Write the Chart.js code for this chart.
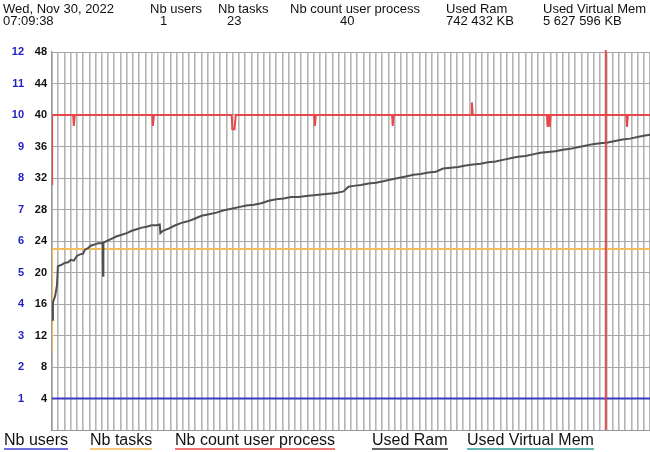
<!DOCTYPE html>
<html>
<head>
<meta charset="utf-8">
<script src="https://cdn.jsdelivr.net/npm/chart.js@4/dist/chart.umd.min.js"></script>
<style>
  html, body { margin: 0; padding: 0; background: #fff; }
  body { width: 650px; height: 452px; position: relative; overflow: hidden; font-family: "Liberation Sans", Arial, sans-serif; }
  #wrap { position: absolute; left: 0; top: 0; width: 650px; height: 452px; }
  .hd { position: absolute; top: 3px; font-size: 13px; line-height: 12px; color: #111; white-space: nowrap; }
  .hd div { height: 12px; }
  #legend { position: absolute; left: 0; top: 432px; width: 650px; height: 20px; }
  #legend span { position: absolute; top: 0; font-size: 16px; line-height: 16px; color: #111; padding-bottom: 0; border-bottom: 2px solid; white-space: nowrap; }
</style>
</head>
<body>
<div id="wrap"><canvas id="cv" width="650" height="452"></canvas></div>
<div id="header"></div>
<div id="legend"></div>
<script>
// ── Data ────────────────────────────────────────────
const headerDate = ['Wed, Nov 30, 2022', '07:09:38'];
const headerNames  = ['Nb users', 'Nb tasks', 'Nb count user process', 'Used Ram', 'Used Virtual Mem'];
const headerValues = ['1', '23', '40', '742 432 KB', '5 627 596 KB'];

const yTicksLeft  = [1, 2, 3, 4, 5, 6, 7, 8, 9, 10, 11, 12];   // users axis
const yTicksRight = [4, 8, 12, 16, 20, 24, 28, 32, 36, 40, 44, 48];

const usersT = [0, 96];
const usersV = [1, 1];

const tasksT = [0, 0.02, 96];
const tasksV = [10.2, 23, 23];

const procT = [0, 0.02, 3.4, 3.5, 3.65, 16.1, 16.2, 16.35, 28.85, 28.95, 29.3, 29.5,
  42.1, 42.2, 42.35, 54.6, 54.7, 54.85, 67.3, 67.4, 67.55,
  79.45, 79.55, 79.7, 79.8, 79.9, 80.05, 92.2, 92.3, 92.45, 96];
const procV = [31.2, 40, 40, 38.6, 40, 40, 38.6, 40, 40, 38.2, 38.2, 40,
  40, 38.6, 40, 40, 38.6, 40, 40, 41.6, 40,
  40, 38.5, 40, 40, 38.5, 40, 40, 38.5, 40, 40];

const ramT = [0, 0.15, 0.5, 0.8, 0.95, 1.6, 2.0, 2.6, 3.0, 3.5, 4.0, 4.5, 5.0, 5.3, 5.8, 6.2, 6.6, 7.0, 7.4, 7.75,
  8.15, 8.2, 8.25, 8.8, 9.6, 10.4, 11.2, 12.0, 12.8, 13.6, 14.4, 15.2, 16.0, 16.8, 17.3, 17.4, 17.8, 18.8, 19.8,
  20.8, 21.8, 22.8, 24.0, 25.2, 26.4, 27.6, 28.8, 30.0, 31.2, 32.4, 33.6, 34.8, 36.0, 37.2, 38.4, 39.6, 40.8,
  42.0, 43.2, 44.4, 45.6, 46.8, 47.6, 48.4, 49.6, 50.8, 52.0, 53.2, 54.4, 55.6, 56.8, 58.0, 59.2, 60.4, 61.6,
  62.8, 64.0, 65.2, 66.4, 67.6, 68.8, 70.0, 71.2, 72.4, 73.6, 74.8, 76.0, 77.2, 78.4, 79.6, 80.8, 82.0, 83.2,
  84.4, 85.6, 86.8, 88.0, 89.2, 90.4, 91.6, 92.8, 94.0, 95.2, 96.0];
const ramV = [14.0, 16.2, 17.0, 18.4, 20.8, 21.0, 21.2, 21.3, 21.6, 21.5, 22.1, 22.3, 22.4, 22.9, 23.1, 23.4, 23.5, 23.6, 23.7, 23.7,
  23.8, 19.6, 23.8, 24.0, 24.3, 24.6, 24.8, 25.0, 25.3, 25.5, 25.7, 25.8, 26.0, 26.0, 26.1, 25.0, 25.3, 25.6, 26.0,
  26.3, 26.5, 26.8, 27.2, 27.4, 27.6, 27.9, 28.1, 28.3, 28.5, 28.6, 28.8, 29.1, 29.3, 29.4, 29.6, 29.6, 29.7,
  29.8, 29.9, 30.0, 30.1, 30.3, 30.9, 31.0, 31.1, 31.3, 31.4, 31.6, 31.8, 32.0, 32.2, 32.4, 32.5, 32.7, 32.8,
  33.2, 33.3, 33.4, 33.6, 33.7, 33.8, 34.0, 34.1, 34.3, 34.5, 34.7, 34.8, 35.0, 35.2, 35.3, 35.4, 35.6, 35.7,
  35.9, 36.1, 36.3, 36.4, 36.5, 36.7, 36.9, 37.0, 37.2, 37.4, 37.5];

const vmemT = [];   // off the scale, not visible
const vmemV = [];

const markerX = 88.9;   // current-time marker

// ── Helpers ─────────────────────────────────────────
const pts = (t, v) => t.map((x, i) => ({ x, y: v[i] }));

const COLORS = {
  users: '#3b3bc4', tasks: '#f3be5c', proc: '#e8484c', ram: '#505050', vmem: '#4aa8a8',
  usersLeg: '#6f6fdc', tasksLeg: '#f6cb80', procLeg: '#f07676', ramLeg: '#666666', vmemLeg: '#66b6b6',
};

// header
(function buildHeader() {
  const h = document.getElementById('header');
  const cols = [3, 150, 218, 290, 446, 543];
  const valOffset = [0, 10, 9, 50, 0, 0];
  const mk = (left, lines) => {
    const d = document.createElement('div');
    d.className = 'hd';
    d.style.left = left + 'px';
    lines.forEach(t => { const l = document.createElement('div'); l.textContent = t; d.appendChild(l); });
    h.appendChild(d);
  };
  mk(cols[0], headerDate);
  headerNames.forEach((n, i) => {
    mk(cols[i + 1], [n]);
    const d = document.createElement('div');
    d.className = 'hd';
    d.style.top = '15px';
    d.style.left = (cols[i + 1] + valOffset[i + 1]) + 'px';
    d.textContent = headerValues[i];
    h.appendChild(d);
  });
})();

const markerPlugin = {
  id: 'marker',
  afterDatasetsDraw(chart) {
    const { ctx, chartArea: a, scales } = chart;
    const x = scales.x.getPixelForValue(markerX);
    ctx.save();
    ctx.strokeStyle = 'rgba(228,60,60,0.9)';
    ctx.lineWidth = 2;
    ctx.beginPath(); ctx.moveTo(x, a.top - 2); ctx.lineTo(x, a.bottom); ctx.stroke();
    ctx.restore();
  },
};

const lineDs = (label, data, color, axis, width) => ({
  label, data, yAxisID: axis, borderColor: color, backgroundColor: color,
  borderWidth: width, pointRadius: 0, tension: 0, fill: false,
});

const chart = new Chart(document.getElementById('cv'), {
  type: 'line',
  data: {
    datasets: [
      lineDs('Used Ram', pts(ramT, ramV), COLORS.ram, 'y', 2),
      lineDs('Nb users', pts(usersT, usersV), COLORS.users, 'yU', 2),
      lineDs('Nb tasks', pts(tasksT, tasksV), COLORS.tasks, 'y', 2),
      lineDs('Nb count user process', pts(procT, procV), COLORS.proc, 'y', 2),
      lineDs('Used Virtual Mem', pts(vmemT, vmemV), COLORS.vmem, 'y', 2),
    ],
  },
  options: {
    responsive: false, animation: false,
    layout: { padding: { top: 52, bottom: 22, left: 0, right: 0 } },
    plugins: { legend: { display: false }, tooltip: { enabled: false } },
    scales: {
      x: {
        type: 'linear', min: 0, max: 96,
        ticks: { display: false, stepSize: 1 },
        grid: { color: '#b4b4b4', lineWidth: 1.6, drawTicks: false },
        border: { color: '#9a9a9a', width: 1 },
        afterFit: s => { s.height = 0; },
      },
      y: {
        position: 'left', weight: 0, min: 0, max: 48,
        afterBuildTicks: s => { s.ticks = [0, ...yTicksRight].map(v => ({ value: v })); },
        ticks: { color: '#111', padding: 5, font: { family: '"Liberation Sans", Arial', size: 11, weight: 'bold' },
                 callback: v => v === 0 ? '' : v },
        grid: { color: '#a8a8a8', lineWidth: 1, drawTicks: false },
        border: { color: '#9a9a9a', width: 1.5 },
        afterFit: s => { s.width = 24; },
      },
      yU: {
        position: 'left', weight: 1, min: 0, max: 12,
        afterBuildTicks: s => { s.ticks = [0, ...yTicksLeft].map(v => ({ value: v })); },
        ticks: { color: '#2323c3', padding: 4, font: { family: '"Liberation Sans", Arial', size: 11, weight: 'bold' },
                 callback: v => v === 0 ? '' : v },
        grid: { display: false, drawTicks: false },
        border: { display: false },
        afterFit: s => { s.width = 28; },
      },
    },
  },
  plugins: [markerPlugin],
});

// html legend
(function buildLegend() {
  const lg = document.getElementById('legend');
  const order = ['Nb users', 'Nb tasks', 'Nb count user process', 'Used Ram', 'Used Virtual Mem'];
  const lefts = [4, 90, 175, 372, 467];
  const legColors = [COLORS.usersLeg, COLORS.tasksLeg, COLORS.procLeg, COLORS.ramLeg, COLORS.vmemLeg];
  order.forEach((name, i) => {
    const ds = chart.data.datasets.find(d => d.label === name);
    const s = document.createElement('span');
    s.textContent = ds.label;
    s.style.left = lefts[i] + 'px';
    s.style.borderBottomColor = legColors[i];
    lg.appendChild(s);
  });
})();
</script>
</body>
</html>
